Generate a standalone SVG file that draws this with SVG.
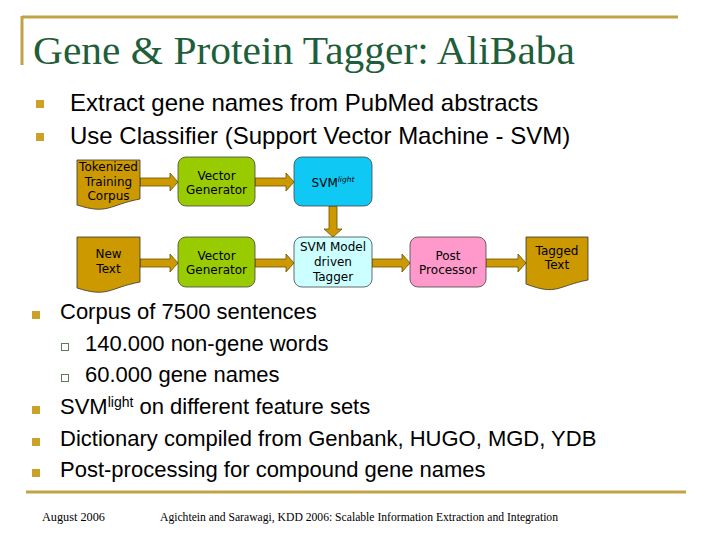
<svg xmlns="http://www.w3.org/2000/svg" width="720" height="540" viewBox="0 0 720 540">
<defs>
<style>
.title{font-family:"Liberation Serif",serif;font-size:41px;fill:#1F5E3B}
.body{font-family:"Liberation Sans",Arial,sans-serif;font-size:22px;fill:#000}
.top{font-size:24px}
.node{font-family:"DejaVu Sans",Verdana,sans-serif;font-size:12px;fill:#000;text-anchor:middle}
.foot{font-family:"Liberation Serif",serif;font-size:12px;fill:#000}
.bul{fill:#C9A227}
.sub{fill:#fff;stroke:#5E7A5E;stroke-width:1}
.doc{fill:#CC9900;stroke:#333;stroke-width:0.8}
.box{stroke:#444;stroke-width:0.8}
.arr{fill:#CC9900;stroke:#6B5000;stroke-width:0.8}
.rule{stroke:#BFA345;stroke-width:3}
</style>
</defs>
<rect width="720" height="540" fill="#fff"/>
<line class="rule" x1="22" y1="17" x2="678" y2="17"/>
<line class="rule" x1="22" y1="16" x2="22" y2="65"/>
<text class="title" x="33" y="64" textLength="542" lengthAdjust="spacingAndGlyphs">Gene &amp; Protein Tagger: AliBaba</text>

<rect class="bul" x="36" y="100" width="8" height="8"/>
<text class="body top" x="70" y="111">Extract gene names from PubMed abstracts</text>
<rect class="bul" x="36" y="133" width="8" height="8"/>
<text class="body top" x="70" y="144">Use Classifier (Support Vector Machine - SVM)</text>

<g id="connectors">
<polygon class="arr" points="140,178 170,178 170,173 178,182 170,191 170,186 140,186"/>
<polygon class="arr" points="255,178 286,178 286,173 294,182 286,191 286,186 255,186"/>
<polygon class="arr" points="329,206 337,206 337,229 342,229 333,237 324,229 329,229"/>
<polygon class="arr" points="140,259 170,259 170,254 178,263 170,272 170,267 140,267"/>
<polygon class="arr" points="255,259 286,259 286,254 294,263 286,272 286,267 255,267"/>
<polygon class="arr" points="372,259 402,259 402,254 410,263 402,272 402,267 372,267"/>
<polygon class="arr" points="486,259 518,259 518,254 526,263 518,272 518,267 486,267"/>
</g>

<g id="tokenized">
<path class="doc" d="M77,160 H140 V199 C108.5,205 108.5,215 77,205 Z"/>
<text class="node" x="108.5" y="171">Tokenized</text>
<text class="node" x="108.5" y="186">Training</text>
<text class="node" x="108.5" y="200">Corpus</text>
</g>
<g id="vg1">
<rect class="box" x="178" y="157" width="77" height="49" rx="8" fill="#99CC00"/>
<text class="node" x="216.5" y="180">Vector</text>
<text class="node" x="216.5" y="194">Generator</text>
</g>
<g id="svmlight">
<rect class="box" x="294" y="157" width="78" height="49" rx="8" fill="#10C8F4"/>
<text class="node" x="333" y="187">SVM<tspan font-size="7.5" font-style="italic" dy="-5">light</tspan></text>
</g>
<g id="newtext">
<path class="doc" d="M77,237 H140 V282 C108.5,288 108.5,298 77,288 Z"/>
<text class="node" x="108.5" y="258">New</text>
<text class="node" x="108.5" y="273">Text</text>
</g>
<g id="vg2">
<rect class="box" x="178" y="237" width="77" height="50" rx="8" fill="#99CC00"/>
<text class="node" x="216.5" y="260">Vector</text>
<text class="node" x="216.5" y="274">Generator</text>
</g>
<g id="svmmodel">
<rect class="box" x="294" y="237" width="78" height="50" rx="8" fill="#CCFFFF"/>
<text class="node" x="333" y="251">SVM Model</text>
<text class="node" x="333" y="266">driven</text>
<text class="node" x="333" y="281">Tagger</text>
</g>
<g id="post">
<rect class="box" x="410" y="237" width="76" height="50" rx="8" fill="#FF99CC"/>
<text class="node" x="448" y="260">Post</text>
<text class="node" x="448" y="274">Processor</text>
</g>
<g id="tagged">
<path class="doc" d="M526,237 H588 V280 C557,286 557,296 526,284 Z"/>
<text class="node" x="557" y="255">Tagged</text>
<text class="node" x="557" y="269">Text</text>
</g>

<rect class="bul" x="32" y="311" width="8" height="8"/>
<text class="body" x="60" y="319">Corpus of 7500 sentences</text>
<rect class="sub" x="61.5" y="343.5" width="7" height="7"/>
<text class="body" x="85" y="351">140.000 non-gene words</text>
<rect class="sub" x="61.5" y="374.5" width="7" height="7"/>
<text class="body" x="85" y="382">60.000 gene names</text>
<rect class="bul" x="32" y="406" width="8" height="8"/>
<text class="body" x="60" y="414">SVM<tspan font-size="14" dy="-7">light</tspan><tspan dy="7"> on different feature sets</tspan></text>
<rect class="bul" x="32" y="438" width="8" height="8"/>
<text class="body" x="60" y="446">Dictionary compiled from Genbank, HUGO, MGD, YDB</text>
<rect class="bul" x="32" y="469" width="8" height="8"/>
<text class="body" x="60" y="477">Post-processing for compound gene names</text>

<line class="rule" x1="26" y1="492" x2="686" y2="492"/>
<text class="foot" x="42" y="521" textLength="63" lengthAdjust="spacingAndGlyphs">August 2006</text>
<text class="foot" x="160" y="521" textLength="398" lengthAdjust="spacingAndGlyphs">Agichtein and Sarawagi, KDD 2006: Scalable Information Extraction and Integration</text>
</svg>
